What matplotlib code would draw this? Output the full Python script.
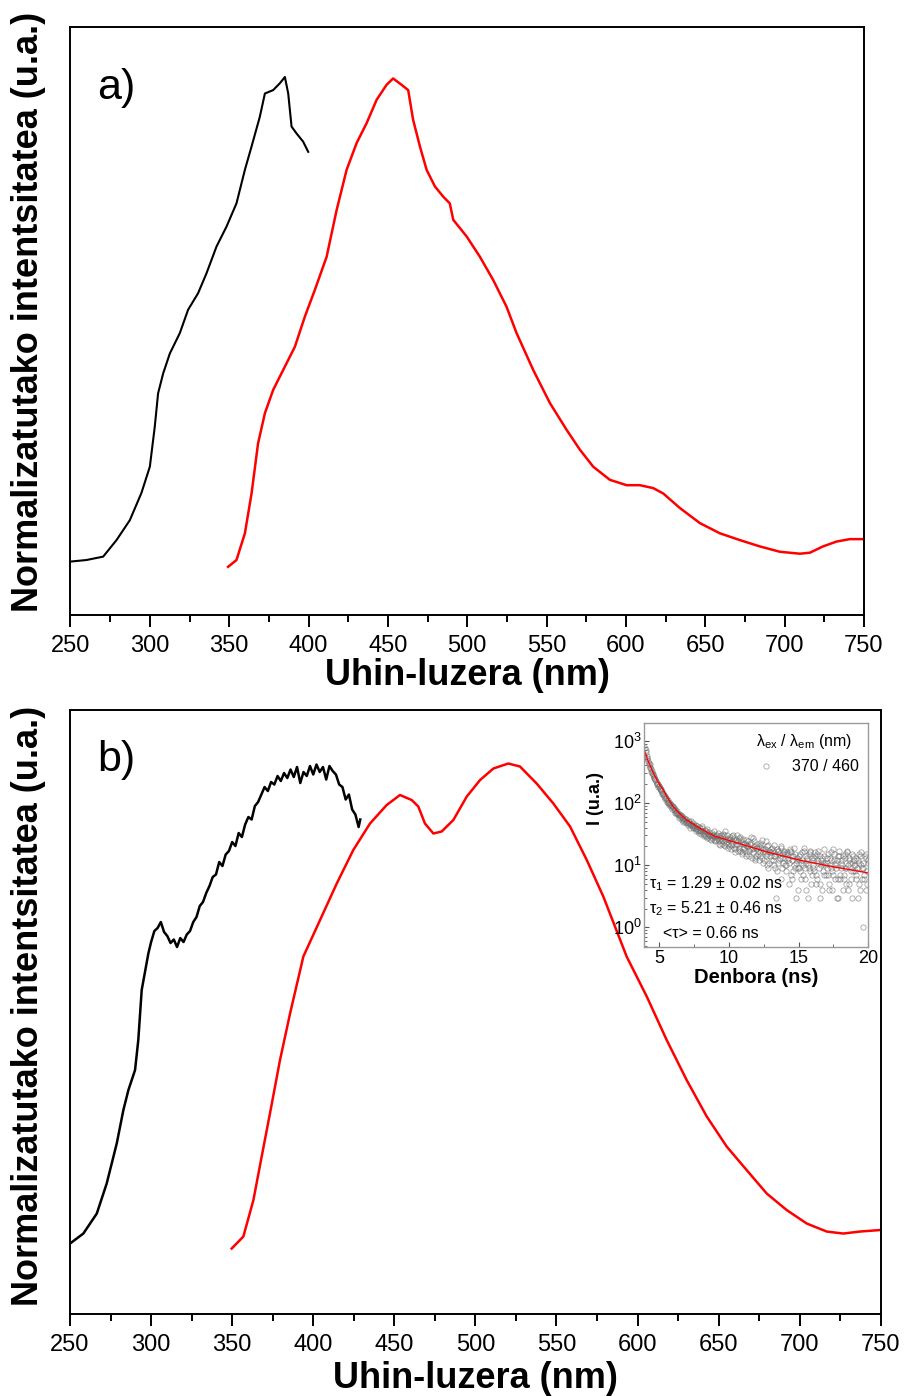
import matplotlib
matplotlib.use("Agg")
import matplotlib.pyplot as plt
from matplotlib.ticker import MultipleLocator, LogLocator, NullFormatter
import numpy as np

plt.rcParams['font.family'] = ['Liberation Sans', 'DejaVu Sans']
plt.rcParams['mathtext.fontset'] = 'custom'
plt.rcParams['mathtext.rm'] = 'Liberation Sans'
plt.rcParams['mathtext.it'] = 'Liberation Sans:italic'
plt.rcParams['mathtext.bf'] = 'Liberation Sans:bold'

# ---------------- data: panel a ----------------
wl_a_exc = [250.6, 260, 270.6, 279, 287.4, 294.7, 300, 303.1, 305.2, 308.4, 312.6, 318.9, 324.1,
            330.4, 335.7, 342, 348.3, 354.6, 359.9, 364.1, 369.3, 372.5, 377.7, 381.9, 385.1,
            387.2, 389.3, 392.4, 396.6, 399.8]
I_a_exc = [0.003, 0.006, 0.013, 0.047, 0.088, 0.144, 0.198, 0.28, 0.349, 0.39, 0.431, 0.473, 0.521,
           0.555, 0.596, 0.651, 0.692, 0.740, 0.809, 0.857, 0.918, 0.966, 0.973, 0.987, 1.0,
           0.966, 0.898, 0.884, 0.867, 0.846]

wl_a_em = [349.3, 354.6, 359.9, 364.1, 368.2, 372.5, 377.7, 385.1, 391.4, 397.7, 404, 411.4, 417.7,
           424, 430.3, 436.6, 442.9, 449.2, 453.3, 458.6, 462.8, 465.9, 470.2, 474.4, 479.6, 484.8,
           489, 491.2, 499.6, 508, 516.4, 524.8, 531.1, 541.6, 552.1, 562.6, 571, 579.4, 589.9,
           600.4, 608.8, 617.2, 623.5, 634, 646.6, 659.2, 671.8, 684.4, 697, 709.6, 715.9, 724.2,
           732.7, 741.1, 749.5]
I_a_em = [-0.008, 0.006, 0.061, 0.143, 0.246, 0.308, 0.356, 0.404, 0.445, 0.507, 0.562, 0.630, 0.726,
          0.809, 0.864, 0.905, 0.953, 0.984, 0.997, 0.984, 0.973, 0.912, 0.857, 0.809, 0.775, 0.754,
          0.740, 0.706, 0.672, 0.630, 0.582, 0.527, 0.473, 0.397, 0.329, 0.274, 0.233, 0.198, 0.171,
          0.160, 0.160, 0.154, 0.143, 0.113, 0.082, 0.061, 0.047, 0.034, 0.023, 0.019, 0.021, 0.034,
          0.044, 0.049, 0.049]

# ---------------- data: panel b ----------------
wl_b_exc = [250, 258.2, 266.5, 272.6, 278.8, 282.9, 286, 290.1, 292.1, 294.2, 298.3,
            300, 302, 304, 306, 308, 310, 312, 314, 316, 318, 320, 322, 324, 326, 328,
            330, 332, 334, 336, 338, 340, 342, 344, 346, 348, 350, 352, 354, 356, 358,
            360, 362, 364, 366, 368, 370, 372, 374, 376, 378, 380, 382, 384, 386, 388,
            390, 392, 394, 396, 398, 400, 402, 404, 406, 408, 410, 412, 414, 416, 418,
            420, 422, 424, 426, 428, 429]
I_b_exc = [0.037, 0.057, 0.097, 0.157, 0.237, 0.304, 0.344, 0.384, 0.444, 0.544, 0.617,
           0.640, 0.662, 0.668, 0.680, 0.660, 0.652, 0.638, 0.645, 0.630, 0.648, 0.640, 0.655,
           0.662, 0.680, 0.690,
           0.712, 0.720, 0.738, 0.752, 0.770, 0.775, 0.800, 0.792, 0.815, 0.822, 0.840, 0.832,
           0.858, 0.850, 0.875,
           0.890, 0.885, 0.912, 0.920, 0.935, 0.950, 0.942, 0.960, 0.955, 0.972, 0.962, 0.978,
           0.968, 0.985, 0.970,
           0.990, 0.958, 0.980, 0.972, 0.992, 0.975, 0.995, 0.980, 0.990, 0.965, 0.992, 0.982,
           0.975, 0.955, 0.950,
           0.925, 0.935, 0.905, 0.895, 0.870, 0.885]

wl_b_em = [349.7, 356.9, 363.1, 368.2, 373.3, 379.5, 385.7, 393.9, 404.2, 414.5, 424.7, 435, 445.3,
           453.5, 460.7, 464.8, 468.9, 474.1, 479.2, 486.4, 494.7, 502.9, 511.1, 520.3, 527.5, 537.8,
           548.1, 558.4, 568.7, 578.9, 593.3, 605.7, 618, 630.3, 642.7, 655, 667.3, 679.7, 692,
           704.4, 716.7, 726.9, 737.2, 749.5]
I_b_em = [0.027, 0.051, 0.124, 0.211, 0.297, 0.404, 0.497, 0.611, 0.684, 0.757, 0.824, 0.877, 0.914,
          0.934, 0.924, 0.911, 0.877, 0.857, 0.861, 0.884, 0.931, 0.964, 0.987, 0.997, 0.991, 0.957,
          0.917, 0.871, 0.804, 0.731, 0.611, 0.531, 0.444, 0.364, 0.291, 0.231, 0.184, 0.137, 0.104,
          0.077, 0.061, 0.057, 0.061, 0.064]

# ---------------- data: inset (decay) ----------------
t_start, t_end = 4.0, 20.0
counts_a = [760, 560, 470, 420, 350, 300, 270, 240, 210, 200,
            185, 170, 150, 140, 128, 118, 110, 100, 95, 90,
            85, 80, 72, 70, 66, 60, 62, 55, 52, 56,
            50, 48, 44, 52, 41, 45, 38, 43, 36, 40,
            35, 42, 33, 30, 38, 28, 34, 31, 27, 36,
            29, 25, 33, 24, 30, 22, 28, 35, 23, 26,
            20, 28, 24, 31, 18, 25, 22, 27, 17, 23,
            26, 19, 21, 15, 24, 18, 28, 16, 20, 13,
            22, 17, 14, 19, 25, 12, 18, 15, 21, 11,
            16, 19, 10, 14, 3, 17, 12, 20, 9, 15,
            13, 8, 16, 11, 18, 6, 14, 10, 3, 12,
            9, 15, 11, 7, 19, 4, 13, 10, 16, 5,
            12, 8, 14, 6, 17, 3, 10, 13, 7, 11,
            9, 15, 5, 12, 8, 18, 6, 11, 3, 14,
            7, 10, 4, 13, 9, 16, 5, 11, 3, 8,
            12, 6, 9, 15, 4, 10, 1, 7, 13, 5,
            11]
counts_b = [650, 520, 440, 380, 320, 290, 255, 225, 205, 190,
            175, 160, 145, 132, 120, 112, 104, 98, 92, 88,
            82, 76, 74, 67, 63, 64, 57, 58, 54, 50,
            47, 51, 46, 42, 47, 39, 44, 37, 41, 35,
            39, 32, 37, 29, 34, 31, 26, 33, 30, 25,
            31, 27, 22, 29, 26, 32, 21, 25, 30, 19,
            26, 21, 29, 19, 24, 30, 17, 22, 25, 16,
            22, 17, 25, 20, 14, 23, 18, 27, 12, 19,
            15, 20, 23, 13, 18, 16, 24, 10, 17, 14,
            18, 12, 21, 15, 8, 17, 13, 19, 11, 16,
            10, 15, 12, 17, 7, 14, 19, 9, 13, 4,
            14, 6, 12, 17, 9, 11, 3, 15, 8, 13,
            10, 16, 5, 12, 9, 14, 4, 11, 18, 7,
            13, 4, 10, 16, 7, 12, 9, 3, 14, 6,
            11, 14, 6, 9, 17, 4, 12, 8, 15, 10,
            8, 13, 3, 11, 16, 6, 9, 14, 4, 12]
counts_c = [700, 500, 400, 360, 310, 280, 250, 230, 200, 180,
            165, 155, 140, 125, 115, 105, 100, 93, 86, 80,
            78, 70, 68, 63, 58, 61, 53, 50, 55, 47,
            44, 49, 40, 45, 39, 42, 35, 40, 33, 37,
            32, 36, 29, 35, 27, 32, 29, 25, 31, 28,
            24, 30, 26, 21, 27, 24, 31, 20, 26, 22,
            25, 18, 23, 27, 16, 21, 24, 19, 28, 15,
            18, 23, 14, 20, 17, 22, 13, 19, 24, 14,
            19, 12, 16, 21, 11, 17, 14, 20, 9, 16,
            12, 17, 14, 9, 18, 11, 15, 6, 13, 17,
            15, 10, 13, 5, 16, 12, 8, 15, 11, 9,
            12, 8, 16, 10, 6, 14, 12, 9, 17, 7,
            9, 13, 7, 15, 11, 5, 12, 8, 14, 10,
            11, 7, 13, 9, 4, 15, 10, 12, 6, 17,
            9, 12, 7, 15, 5, 10, 13, 6, 11, 14,
            10, 7, 12, 5, 14, 9, 11, 6, 15, 8]
t_fit = [3.97, 4.2, 4.57, 5.0, 5.29, 5.6, 6.0, 6.5, 6.97, 7.92, 9.0, 10.31, 12.7, 15.1, 17.5, 20.0]
I_fit = [660, 470, 302, 200, 162, 120, 87, 66, 53, 39, 29, 23.8, 16.4, 12.0, 9.4, 7.5]

x_ticks = [250, 300, 350, 400, 450, 500, 550, 600, 650, 700, 750]

# ---------------- figure ----------------
fig = plt.figure(figsize=(9.06, 13.96), dpi=100)
ax_a = fig.add_axes([0.0778, 0.5595, 0.9536 - 0.0778, 0.9807 - 0.5595])
ax_b = fig.add_axes([0.0773, 0.0587, 0.9721 - 0.0773, 0.4914 - 0.0587])

ax_a.plot(wl_a_exc, I_a_exc, color='black', lw=1.5)
ax_a.plot(wl_a_em, I_a_em, color='red', lw=1.8)
ax_a.set_ylim(-0.107, 1.103)

ax_b.plot(wl_b_exc, I_b_exc, color='black', lw=1.8)
ax_b.plot(wl_b_em, I_b_em, color='red', lw=1.8)
ax_b.set_ylim(-0.104, 1.104)

for ax, lab, ly in ((ax_a, 'a)', 0.897), (ax_b, 'b)', 0.917)):
    ax.set_xlim(250, 750)
    ax.set_xticks(x_ticks)
    ax.xaxis.set_minor_locator(MultipleLocator(25))
    ax.set_yticks([])
    ax.tick_params(axis='x', which='major', direction='out', length=8.5, width=1.4,
                   labelsize=17, pad=6)
    ax.tick_params(axis='x', which='minor', direction='out', length=5, width=1.4)
    for s in ax.spines.values():
        s.set_linewidth(1.4)
    ax.set_xlabel('Uhin-luzera (nm)', fontsize=26, fontweight='bold')
    ax.set_ylabel('Normalizatutako intentsitatea (u.a.)', fontsize=26, fontweight='bold')
    ax.text(0.034, ly, lab, transform=ax.transAxes, fontsize=31, va='center', ha='left')

ax_a.xaxis.set_label_coords(0.5, -0.074)
ax_a.yaxis.set_label_coords(-0.031, 0.515)
ax_b.xaxis.set_label_coords(0.5, -0.078)
ax_b.yaxis.set_label_coords(-0.030, 0.51)

# ---------------- inset ----------------
ax_in = fig.add_axes([0.7111, 0.3218, 0.9584 - 0.7111, 0.4823 - 0.3218])
t_a = np.linspace(t_start, t_end, len(counts_a))
t_b = np.linspace(t_start + 0.05, t_end - 0.05, len(counts_b))
t_c = np.linspace(t_start + 0.025, t_end - 0.075, len(counts_c))
ax_in.plot(np.concatenate([t_a, t_b, t_c]), counts_a + counts_b + counts_c, ls='none',
           marker='o', ms=3.8, mfc='none', mec='#6e6e6e', mew=0.5, alpha=0.75, label='370 / 460')
ax_in.plot(t_fit, I_fit, color='red', lw=1.0)
ax_in.set_yscale('log')
ax_in.set_xlim(3.92, 20)
ax_in.set_ylim(0.488, 1946)
ax_in.set_xticks([5, 10, 15, 20])
ax_in.xaxis.set_minor_locator(MultipleLocator(2.5))
ax_in.yaxis.set_major_locator(LogLocator(base=10, numticks=10))
ax_in.yaxis.set_minor_locator(LogLocator(base=10, subs=np.arange(2, 10) * 1.0, numticks=10))
ax_in.yaxis.set_minor_formatter(NullFormatter())
ax_in.tick_params(which='both', direction='in', color='#555555', labelsize=13, pad=2)
ax_in.tick_params(which='major', length=3.5, width=0.8)
ax_in.tick_params(which='minor', length=2, width=0.6)
for s in ax_in.spines.values():
    s.set_color('#9a9a9a')
    s.set_linewidth(1.0)
ax_in.set_xlabel('Denbora (ns)', fontsize=14.5, fontweight='bold', labelpad=1)
ax_in.set_ylabel('I (u.a.)', fontsize=13, fontweight='bold')
ax_in.yaxis.set_label_coords(-0.18, 0.66)
leg = ax_in.legend(loc='upper right', frameon=False, fontsize=11.5,
                   title=r'λ$_{\mathrm{ex}}$ / λ$_{\mathrm{em}}$ (nm)', title_fontsize=11.5,
                   handletextpad=0.6, borderaxespad=0.2, markerscale=1.0)
ax_in.text(0.022, 0.283, r'τ$_1$ = 1.29 ± 0.02 ns', transform=ax_in.transAxes,
           fontsize=11.5, va='center', ha='left')
ax_in.text(0.022, 0.171, r'τ$_2$ = 5.21 ± 0.46 ns', transform=ax_in.transAxes,
           fontsize=11.5, va='center', ha='left')
ax_in.text(0.082, 0.057, '<τ> = 0.66 ns', transform=ax_in.transAxes,
           fontsize=11.5, va='center', ha='left')

fig.savefig('out.png', dpi=100)
